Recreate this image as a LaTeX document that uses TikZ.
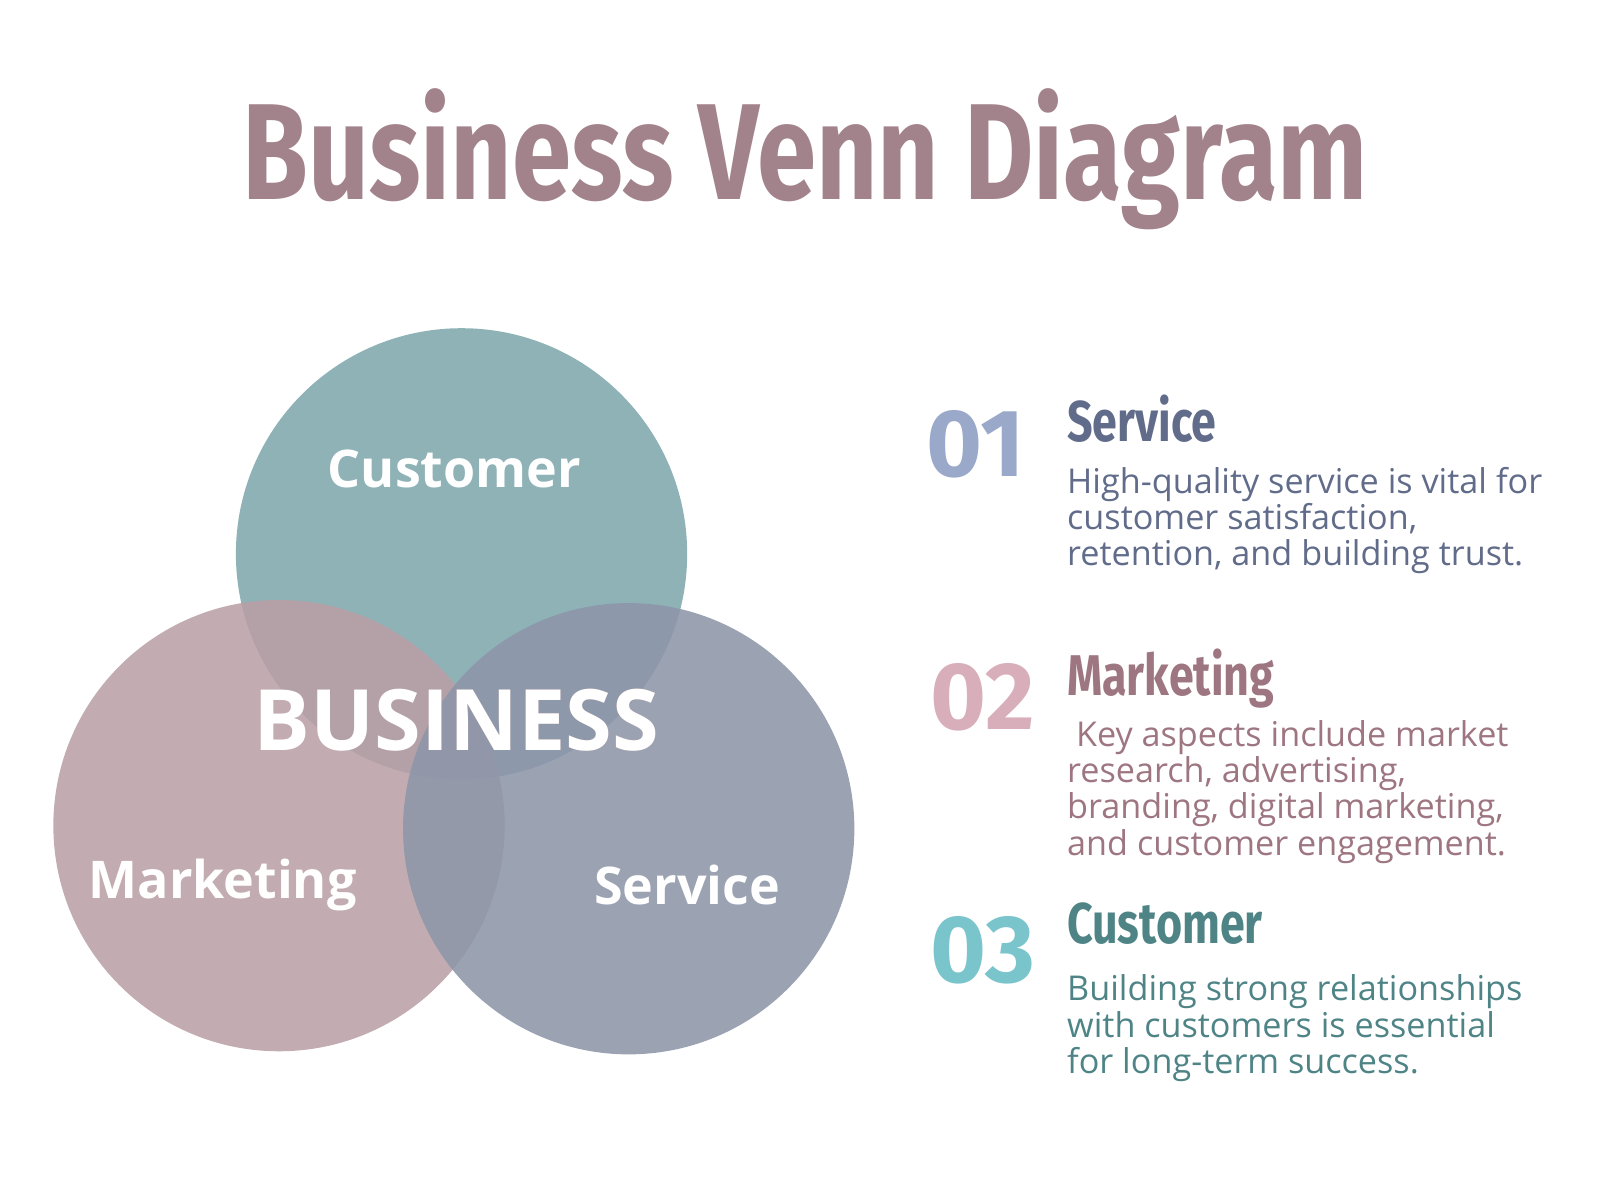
\documentclass[tikz,border=0pt]{standalone}
\usepackage{fontspec}
\setmainfont{Open Sans}
\newfontfamily\headfont{Fira Sans}
\usepackage[outline]{contour}
\contourlength{3pt}
\usetikzlibrary{positioning}
\definecolor{mauve}{RGB}{163,131,139}
\definecolor{tealc}{RGB}{127,167,173}
\definecolor{rosec}{RGB}{185,160,166}
\definecolor{slatec}{RGB}{141,150,169}
\definecolor{darkslate}{RGB}{97,108,138}
\definecolor{lightslate}{RGB}{154,169,201}
\definecolor{darkrose}{RGB}{158,118,130}
\definecolor{lightrose}{RGB}{215,174,185}
\definecolor{darkteal}{RGB}{79,132,134}
\definecolor{lightteal}{RGB}{122,196,204}
\tikzset{every picture/.style={line width=0.75pt},
  venn/.style={fill opacity=0.88, draw=none},
  label/.style={text=white, font=\bfseries\fontsize{38}{38}\selectfont, inner sep=0.75pt},
  num/.style={anchor=north west, inner sep=0pt, font=\headfont\bfseries\fontsize{70}{70}\selectfont},
  head/.style={anchor=north west, inner sep=0pt, font=\headfont\bfseries\fontsize{42}{42}\selectfont},
  body/.style={anchor=north west, inner sep=0pt, align=left, font=\fontsize{25}{26.5}\selectfont}}
\begin{document}
\begin{tikzpicture}[x=0.75pt,y=0.75pt,yscale=-1,xscale=1]
\useasboundingbox (0,0) rectangle (1560,1170);

% Title
\node (title) at (785,155) {\scalebox{0.78}[1]{\headfont\bfseries\fontsize{100}{100}\selectfont\color{mauve}Business Venn Diagram}};

% Circles
\fill[venn, tealc] (450,540) circle [radius=220];
\fill[venn, rosec] (272,805) circle [radius=220];
\fill[venn, slatec] (613,808) circle [radius=220];

% Labels
\node[label] (cust) at (443,457) {Customer};
\node[label] (mark) at (217,863) {Marketing};
\node[label] (serv) at (670,863) {Service};
\node[text=white, font=\bfseries\fontsize{62}{62}\selectfont] (biz) at (445,702) {\contour{mauve}{BUSINESS}};

% Item 01
\node[num, text=lightslate] (n1) at (903,400) {01};
\node[head, text=darkslate] (h1) at (1040,385) {\scalebox{0.78}[1]{Service}};
\node[body, text=darkslate] (b1) at (1040,455) {High-quality service is vital for\\customer satisfaction,\\retention, and building trust.};

% Item 02
\node[num, text=lightrose] (n2) at (907,646) {02};
\node[head, text=darkrose] (h2) at (1040,632) {\scalebox{0.78}[1]{Marketing}};
\node[body, text=darkrose] (b2) at (1040,702) {\ Key aspects include market\\research, advertising,\\branding, digital marketing,\\and customer engagement.};

% Item 03
\node[num, text=lightteal] (n3) at (907,893) {03};
\node[head, text=darkteal] (h3) at (1040,880) {\scalebox{0.78}[1]{Customer}};
\node[body, text=darkteal] (b3) at (1040,950) {Building strong relationships\\with customers is essential\\for long-term success.};

\end{tikzpicture}
\end{document}
